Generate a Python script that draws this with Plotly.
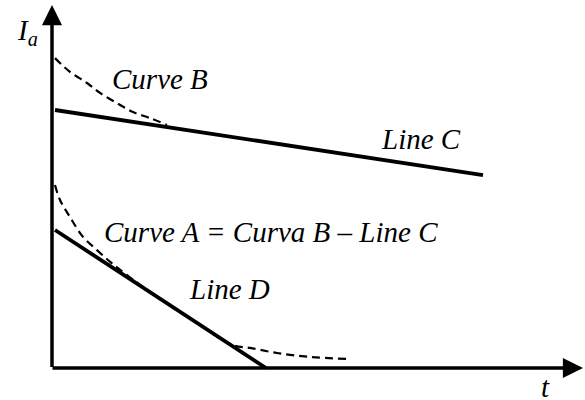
import plotly.graph_objects as go

# Line C (solid, slow component)
t_line_c = [0.06, 8.62]
i_line_c = [8.60, 6.43]

# Curve B (dashed, measured total)
t_curve_b = [0.06, 0.36, 0.70, 0.96, 1.30, 1.62, 1.96, 2.30]
i_curve_b = [10.33, 9.87, 9.50, 9.17, 8.83, 8.53, 8.33, 8.10]

# Line D (solid, fast component)
t_line_d = [0.06, 4.28]
i_line_d = [4.60, 0.00]

# Curve A (dashed, Curve B - Line C)
t_curve_a = [0.06, 0.16, 0.36, 0.62, 0.90, 1.12, 1.32, 1.96, 2.96, 3.60, 3.96, 4.50, 5.16, 5.90]
i_curve_a = [6.10, 5.60, 5.03, 4.37, 3.93, 3.60, 3.33, 2.53, 1.43, 0.77, 0.67, 0.50, 0.37, 0.30]

# Text labels
label_text = ["I<sub>a</sub>", "Curve B", "Line C", "Curve A = Curva B \u2013 Line C", "Line D", "t"]
label_t = [-0.50, 2.16, 7.38, 4.37, 3.54, 9.86]
label_i = [11.20, 9.62, 7.62, 4.52, 2.65, -0.62]

# Axis extents
t_axis_end = 10.62
i_axis_end = 12.10

FONT = "Liberation Serif, Times New Roman, serif"

fig = go.Figure()
fig.add_trace(go.Scatter(x=t_line_c, y=i_line_c, mode="lines",
                         line=dict(color="black", width=3.8), hoverinfo="skip"))
fig.add_trace(go.Scatter(x=t_curve_b, y=i_curve_b, mode="lines",
                         line=dict(color="black", width=2.2, dash="8px,5px", shape="spline"),
                         hoverinfo="skip"))
fig.add_trace(go.Scatter(x=t_line_d, y=i_line_d, mode="lines",
                         line=dict(color="black", width=3.8), hoverinfo="skip"))
fig.add_trace(go.Scatter(x=t_curve_a, y=i_curve_a, mode="lines",
                         line=dict(color="black", width=2.2, dash="8px,5px", shape="spline"),
                         hoverinfo="skip"))

annotations = []
# axes with arrowheads
annotations.append(dict(x=t_axis_end, y=0, ax=-0.02, ay=0, xref="x", yref="y",
                        axref="x", ayref="y", showarrow=True, arrowhead=2,
                        arrowsize=1.15, arrowwidth=3.5, arrowcolor="black", text="",
                        standoff=0, startstandoff=0))
annotations.append(dict(x=0, y=i_axis_end, ax=0, ay=-0.02, xref="x", yref="y",
                        axref="x", ayref="y", showarrow=True, arrowhead=2,
                        arrowsize=1.15, arrowwidth=3.5, arrowcolor="black", text="",
                        standoff=0, startstandoff=0))
for txt, tx, iy in zip(label_text, label_t, label_i):
    annotations.append(dict(x=tx, y=iy, xref="x", yref="y", text="<i>" + txt + "</i>",
                            showarrow=False,
                            font=dict(family=FONT, size=29, color="black")))

fig.update_layout(
    width=585, height=400,
    margin=dict(l=0, r=0, t=0, b=0),
    paper_bgcolor="white", plot_bgcolor="white",
    showlegend=False,
    xaxis=dict(range=[-1.04, 10.66], visible=False, fixedrange=True),
    yaxis=dict(range=[-1.0667, 12.2667], visible=False, fixedrange=True),
    annotations=annotations,
)

fig.write_html("out.html", config={"displayModeBar": False},
               post_script="document.body.style.margin='0';document.body.style.overflow='hidden';")
